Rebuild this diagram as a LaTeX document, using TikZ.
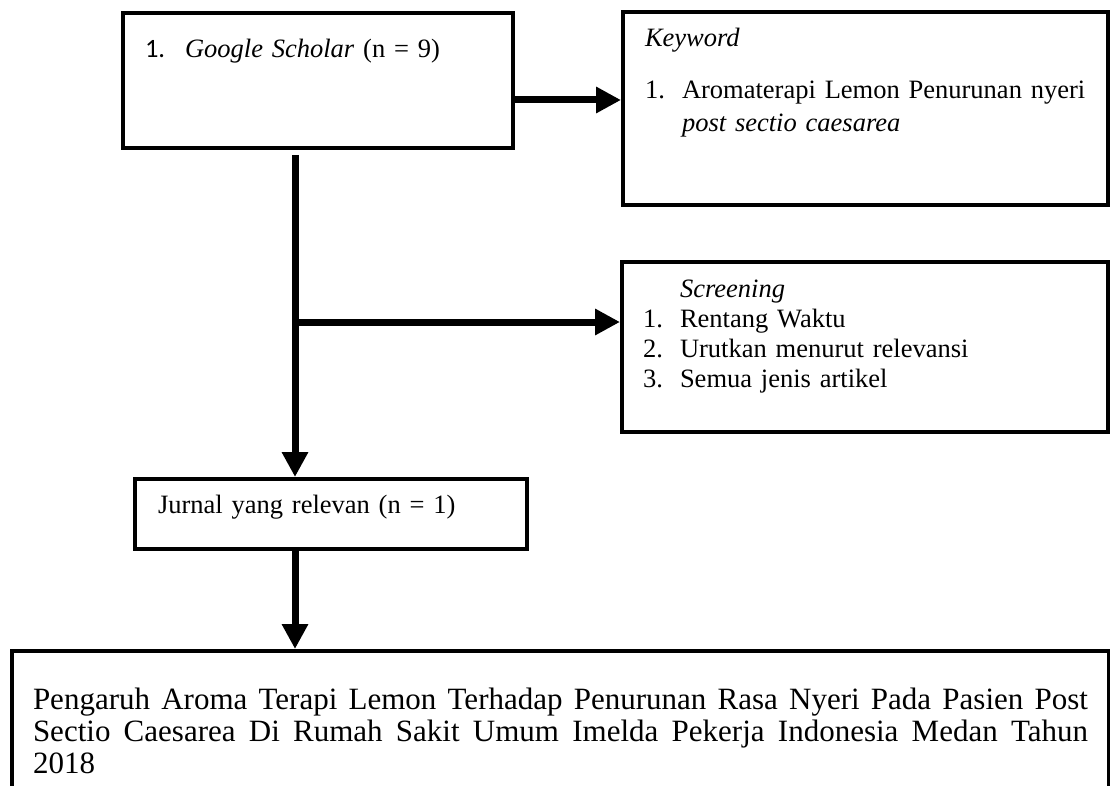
\documentclass[tikz,border=0pt]{standalone}
\usepackage{fontspec}
\setmainfont{Liberation Serif}
\newfontfamily\numfont{Carlito}
\usetikzlibrary{arrows.meta,calc}
\newcommand{\boxfont}{\fontsize{26.5}{30}\selectfont\lineskiplimit=-100pt}
\newcommand{\bigfont}{\fontsize{31}{32}\selectfont\lineskiplimit=-100pt}
\newcommand{\itemno}[1]{\makebox[37pt][l]{#1}}

\begin{document}
\begin{tikzpicture}[x=1pt, y=-1pt,
      box/.style={draw, line width=4pt, anchor=north west, inner ysep=0pt,
        align=left, font=\boxfont},
      arr/.style={-{Triangle[length=25pt, width=25pt]}, line width=7pt}]
    \useasboundingbox (0,0) rectangle (1110,786);
    \node[box, inner xsep=22pt, text width=346pt, text height=45pt, text depth=90pt]
      (gs) at (121,11) {\makebox[40pt][l]{\numfont 1.}\textit{Google Scholar} (n = 9)};
    \node[box, inner xsep=22pt, text width=441pt, text height=35pt, text depth=158pt]
      (kw) at (621,10) {\textit{Keyword}\\[22pt]
        \itemno{1.}Aromaterapi Lemon Penurunan nyeri\\[3pt]
        \hspace*{37pt}\textit{post sectio caesarea}};
    \node[box, inner xsep=21pt, text width=444pt, text height=35pt, text depth=135pt]
      (scr) at (620,260) {\hspace*{37pt}\textit{Screening}\\
        \itemno{1.}Rentang Waktu\\
        \itemno{2.}Urutkan menurut relevansi\\
        \itemno{3.}Semua jenis artikel};
    \node[box, inner xsep=23pt, text width=346pt, text height=34pt, text depth=36pt]
      (jur) at (133,477) {Jurnal yang relevan (n = 1)};
    \node[box, inner xsep=21pt, text width=1055pt, text height=58pt, text depth=120pt,
      align=justify, font=\bigfont]
      (fin) at (10,649) {\baselineskip=32pt
        Pengaruh Aroma Terapi Lemon Terhadap Penurunan Rasa Nyeri Pada Pasien Post\linebreak
        Sectio Caesarea Di Rumah Sakit Umum Imelda Pekerja Indonesia Medan Tahun\linebreak
        2018};
    \coordinate (fork) at (295,322);
    \draw[arr] ([yshift=-19.5pt]gs.east) -- ([yshift=-19.5pt]gs.east -| kw.west);
    \draw[arr, shorten <=5pt] (gs.south -| fork) -- (fork |- jur.north);
    \draw[arr] (fork) -- (fork -| scr.west);
    \draw[arr] (fork |- jur.south) -- (fork |- fin.north);
  \end{tikzpicture}
\end{document}
